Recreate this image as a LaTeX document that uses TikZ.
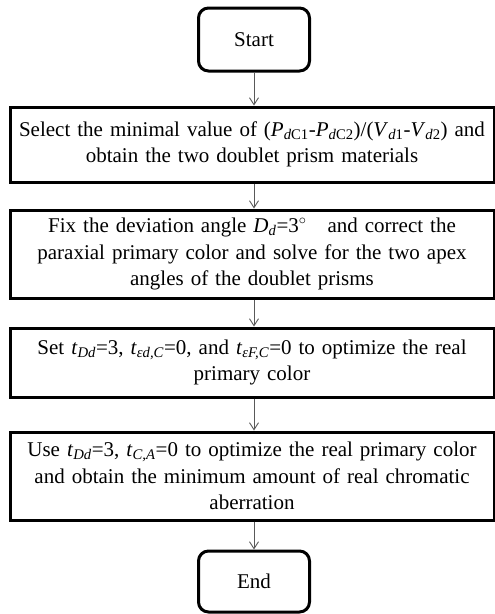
\documentclass[tikz,border=0pt]{standalone}
\usepackage{fontspec}
\setmainfont{Liberation Serif}
\usepackage{tikz}
\usetikzlibrary{arrows.meta,positioning}
\newcommand{\vi}[1]{\textit{#1}}
\tikzset{
  term/.style={draw, line width=3pt, rounded corners=10pt, minimum width=111pt, inner sep=0pt},
  stepbox/.style={draw, line width=3pt, minimum width=484pt, text width=480pt, align=center, inner sep=0pt},
  flow/.style={-{Straight Barb[length=7pt,width=9pt]}, gray!70!black, line width=0.9pt}
}
\begin{document}
\begin{tikzpicture}[x=1pt,y=-1pt,font=\fontsize{21}{26.5}\selectfont]
        \useasboundingbox (0,0) rectangle (495,614);
        % Terminals
        \node[term, minimum height=63pt] (start) at (254,39.5) {Start};
        \node[term, minimum height=61pt] (end) at (254,581.5) {End};
        % Process steps
        \node[stepbox, minimum height=75pt] (sel) at (252,144.5)
          {Select the minimal value of (\vi{P}\textsubscript{\vi{d}C1}-\vi{P}\textsubscript{\vi{d}C2})/(\vi{V}\textsubscript{\vi{d}1}-\vi{V}\textsubscript{\vi{d}2}) and\\ obtain the two doublet prism materials};
        \node[stepbox, minimum height=88pt] (fix) at (252,254)
          {Fix the deviation angle \vi{D}\textsubscript{\vi{d}}=3$^{\circ}$\quad and correct the\\ paraxial primary color and solve for the two apex\\ angles of the doublet prisms};
        \node[stepbox, minimum height=69pt] (set) at (252,362.5)
          {Set \vi{t}\textsubscript{\vi{Dd}}=3, \vi{t}\textsubscript{\vi{εd,C}}=0, and \vi{t}\textsubscript{\vi{εF,C}}=0 to optimize the real\\ primary color};
        \node[stepbox, minimum height=88pt] (use) at (252,476)
          {Use \vi{t}\textsubscript{\vi{Dd}}=3, \vi{t}\textsubscript{\vi{C,A}}=0 to optimize the real primary color\\ and obtain the minimum amount of real chromatic\\ aberration};
        % Connectors
        \draw[flow] (start) -- (start |- sel.north);
        \draw[flow] (start |- sel.south) -- (start |- fix.north);
        \draw[flow] (start |- fix.south) -- (start |- set.north);
        \draw[flow] (start |- set.south) -- (start |- use.north);
        \draw[flow] (start |- use.south) -- (end);
\end{tikzpicture}
\end{document}
